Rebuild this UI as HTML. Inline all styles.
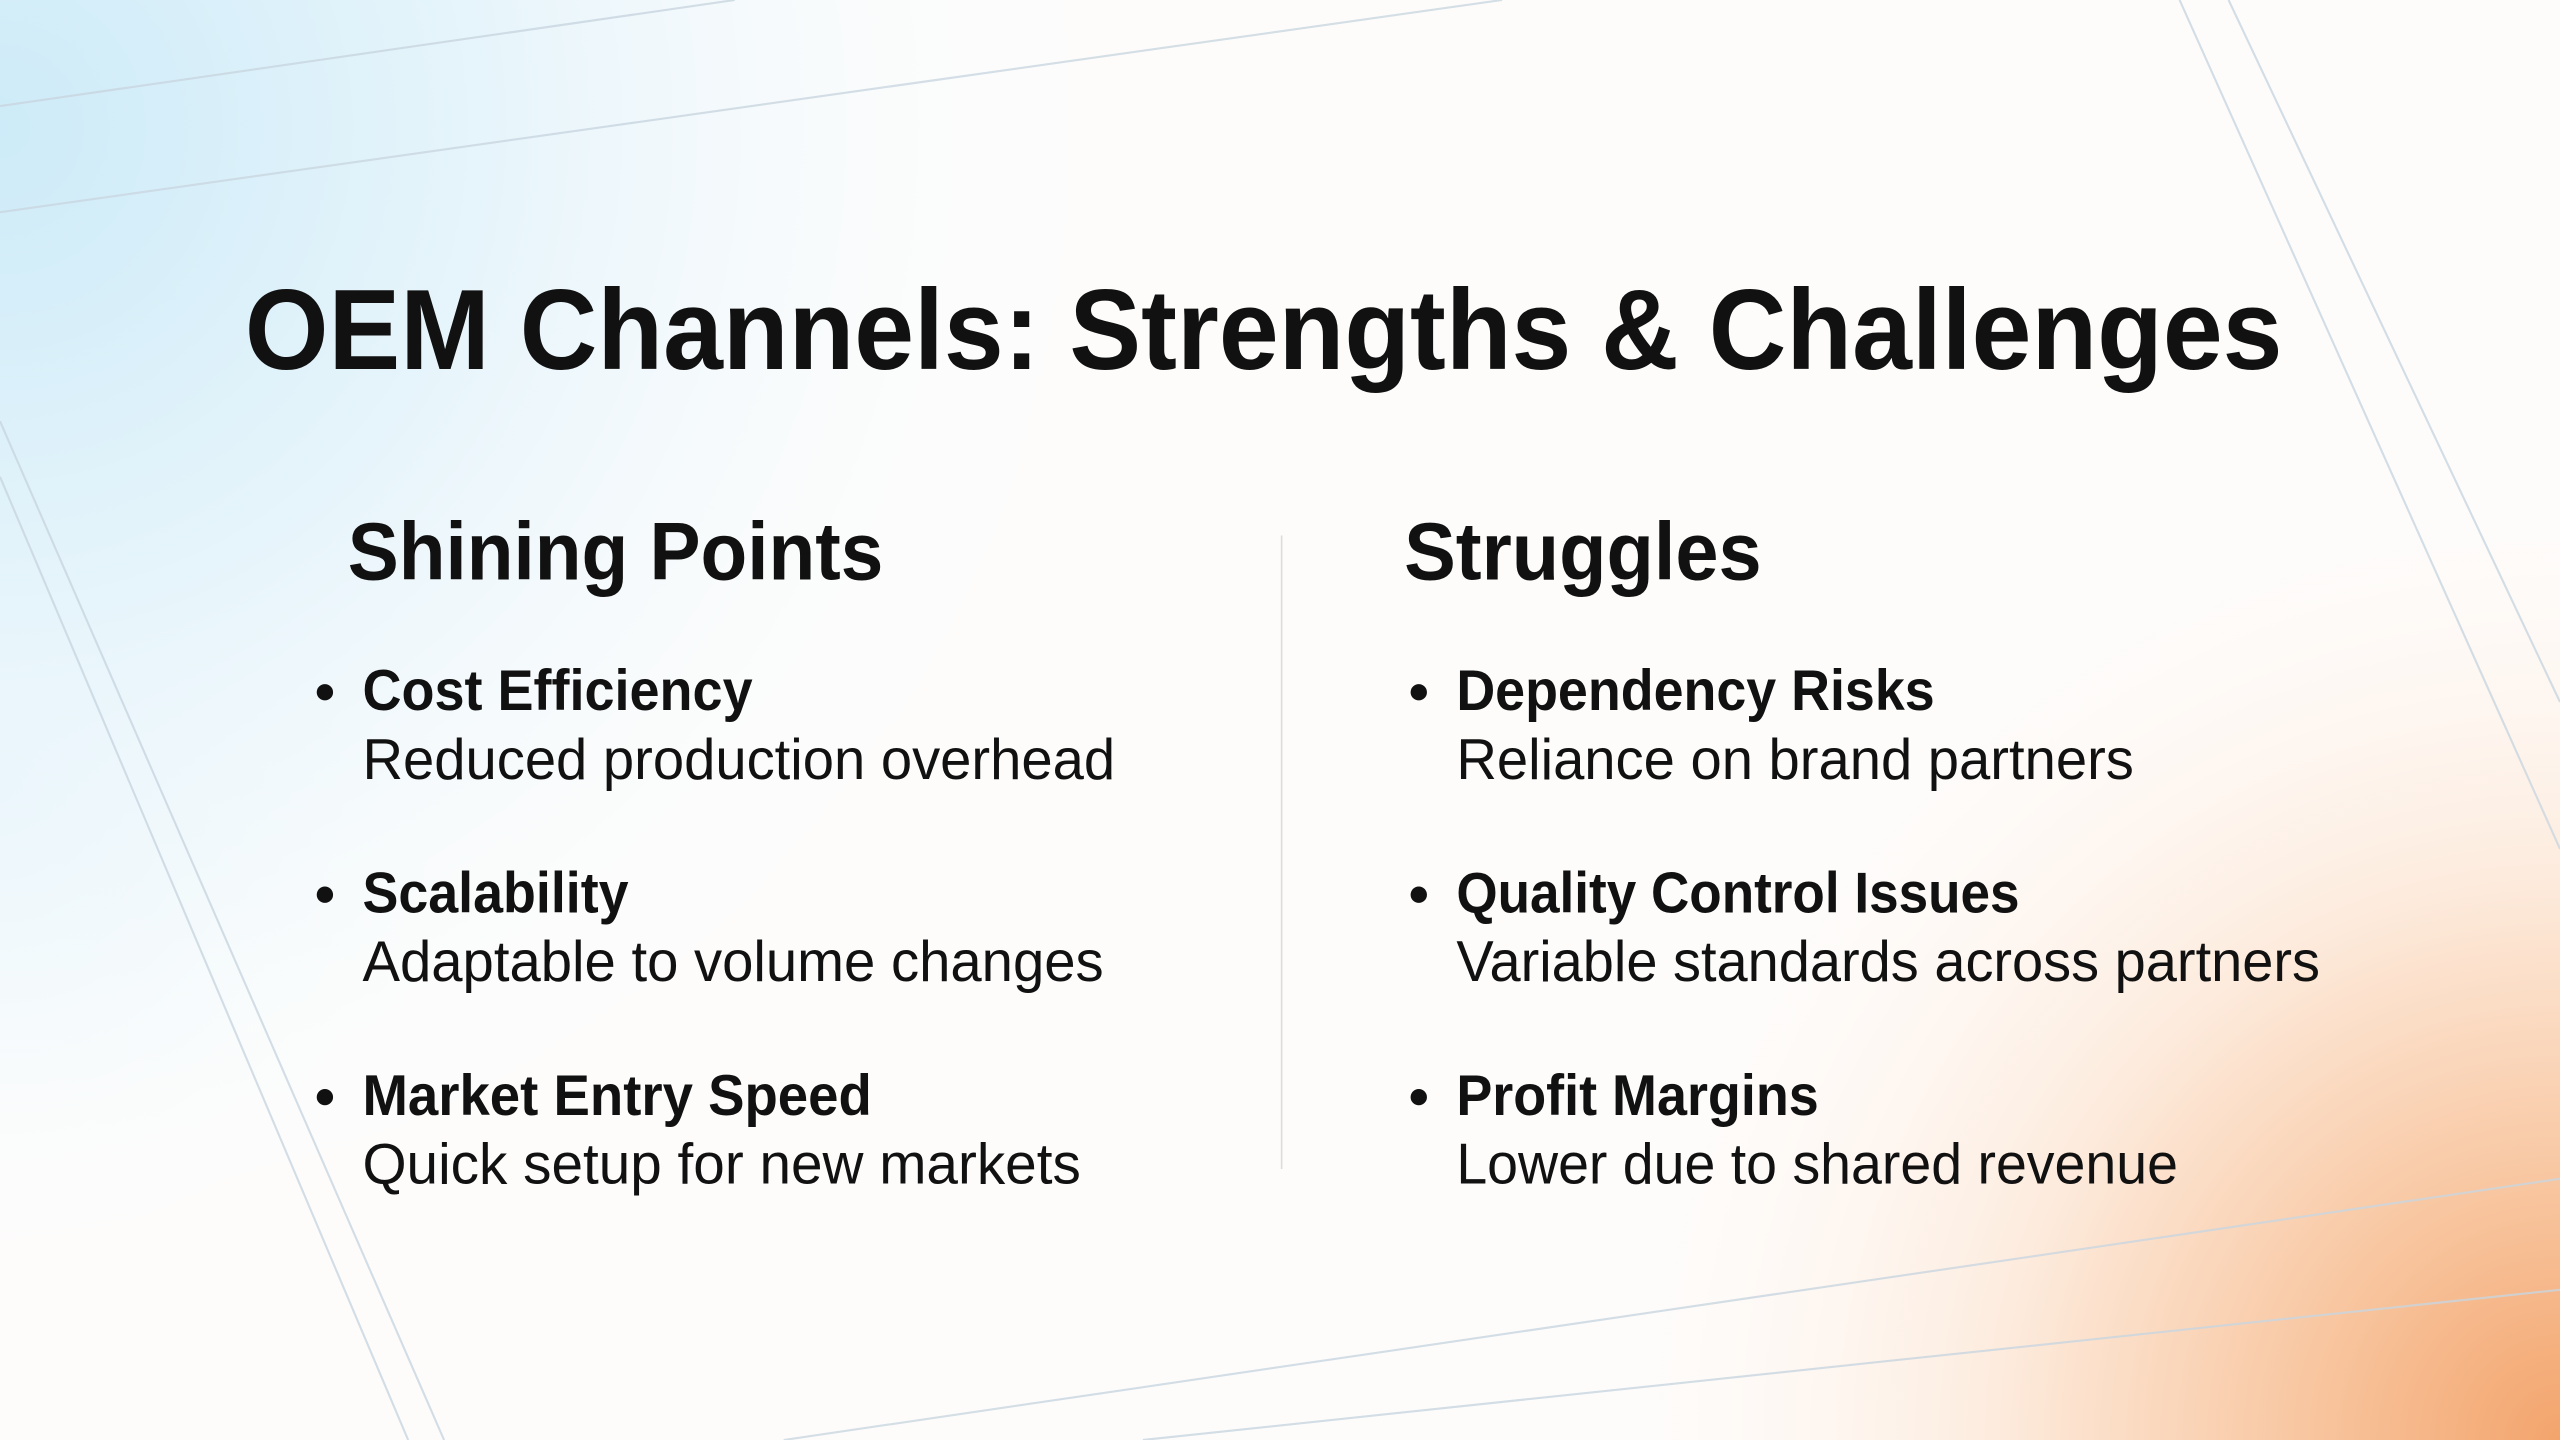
<!DOCTYPE html>
<html><head><meta charset="utf-8"><style>
html,body{margin:0;padding:0;width:2560px;height:1440px;overflow:hidden;background:#fff}
svg{display:block}
text{font-family:"Liberation Sans",sans-serif;fill:#111}
.b{font-weight:bold}
</style></head><body>
<svg width="2560" height="1440" viewBox="0 0 1568 882" preserveAspectRatio="none">
<defs>
<radialGradient id="gb" cx="0" cy="0.05" r="0.45" gradientTransform="scale(1,1.78)">
<stop offset="0" stop-color="#cdebf8"/><stop offset="0.45" stop-color="#e8f5fb"/><stop offset="1" stop-color="#ffffff" stop-opacity="0"/>
</radialGradient>
<radialGradient id="go" cx="1" cy="1" r="0.4" gradientTransform="translate(0,-0.78) scale(1,1.78)">
<stop offset="0" stop-color="#f3a46c"/><stop offset="0.25" stop-color="#f8c6a0"/><stop offset="0.55" stop-color="#fdebdd"/><stop offset="1" stop-color="#ffffff" stop-opacity="0"/>
</radialGradient>
<radialGradient id="gl" cx="0" cy="0.55" r="0.2" gradientTransform="translate(0,-0.43) scale(1,1.78)">
<stop offset="0" stop-color="#e3f3fa"/><stop offset="1" stop-color="#ffffff" stop-opacity="0"/>
</radialGradient>
</defs>
<rect width="1568" height="882" fill="#fdfcfb"/>
<rect width="1568" height="882" fill="url(#gl)"/>
<rect width="1568" height="882" fill="url(#gb)"/>
<rect width="1568" height="882" fill="url(#go)"/>
<g stroke="#c9d6e0" stroke-width="1.3" fill="none" opacity="0.8">
<line x1="0" y1="65" x2="450" y2="0"/>
<line x1="0" y1="130" x2="920" y2="0"/>
<line x1="0" y1="258" x2="272" y2="882"/>
<line x1="0" y1="292" x2="250" y2="882"/>
<line x1="1335" y1="0" x2="1568" y2="520"/>
<line x1="1365" y1="0" x2="1568" y2="430"/>
<line x1="480" y1="882" x2="1568" y2="722"/>
<line x1="700" y1="882" x2="1568" y2="790"/>
</g>
<line x1="785" y1="328" x2="785" y2="716" stroke="#dcdcdc" stroke-width="1"/>
<text class="b" x="150" y="226" font-size="70" textLength="1248" lengthAdjust="spacingAndGlyphs">OEM Channels: Strengths &amp; Challenges</text>
<text class="b" x="213" y="355" font-size="50" textLength="328" lengthAdjust="spacingAndGlyphs">Shining Points</text>
<text class="b" x="860" y="355" font-size="50" textLength="219" lengthAdjust="spacingAndGlyphs">Struggles</text>
<g font-size="35">
<circle cx="199" cy="424" r="5" fill="#111"/><circle cx="199" cy="548" r="5" fill="#111"/><circle cx="199" cy="672" r="5" fill="#111"/>
<circle cx="869" cy="424" r="5" fill="#111"/><circle cx="869" cy="548" r="5" fill="#111"/><circle cx="869" cy="672" r="5" fill="#111"/>
<text class="b" x="222" y="435" textLength="239" lengthAdjust="spacingAndGlyphs">Cost Efficiency</text>
<text x="222" y="477" textLength="461" lengthAdjust="spacingAndGlyphs">Reduced production overhead</text>
<text class="b" x="222" y="559" textLength="163" lengthAdjust="spacingAndGlyphs">Scalability</text>
<text x="222" y="601" textLength="454" lengthAdjust="spacingAndGlyphs">Adaptable to volume changes</text>
<text class="b" x="222" y="683" textLength="312" lengthAdjust="spacingAndGlyphs">Market Entry Speed</text>
<text x="222" y="725" textLength="440" lengthAdjust="spacingAndGlyphs">Quick setup for new markets</text>
<text class="b" x="892" y="435" textLength="293" lengthAdjust="spacingAndGlyphs">Dependency Risks</text>
<text x="892" y="477" textLength="415" lengthAdjust="spacingAndGlyphs">Reliance on brand partners</text>
<text class="b" x="892" y="559" textLength="345" lengthAdjust="spacingAndGlyphs">Quality Control Issues</text>
<text x="892" y="601" textLength="529" lengthAdjust="spacingAndGlyphs">Variable standards across partners</text>
<text class="b" x="892" y="683" textLength="222" lengthAdjust="spacingAndGlyphs">Profit Margins</text>
<text x="892" y="725" textLength="442" lengthAdjust="spacingAndGlyphs">Lower due to shared revenue</text>
</g>
</svg>
</body></html>
